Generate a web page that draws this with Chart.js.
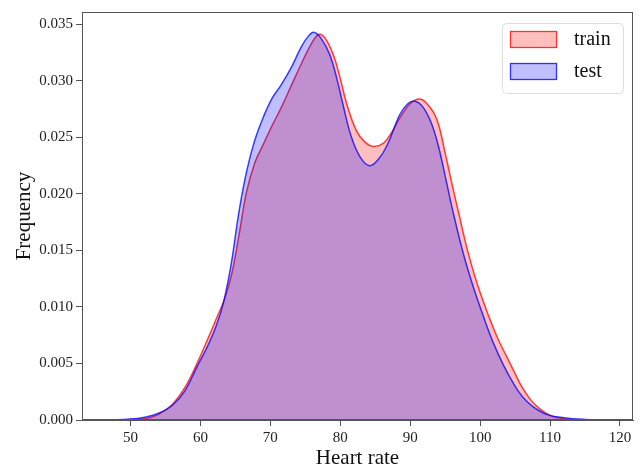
<!DOCTYPE html>
<html>
<head>
<meta charset="utf-8">
<script src="https://cdn.jsdelivr.net/npm/chart.js@4.4.1/dist/chart.umd.min.js"></script>
<style>
  html, body { margin: 0; padding: 0; background: #ffffff; }
  #c { display: block; }
</style>
</head>
<body>
<canvas id="c" width="643" height="469"></canvas>
<script>
// ---- data (KDE curves) ----
const seriesNames = ["train", "test"];

const trainX = [48, 50, 52, 54, 56, 57.8, 59.5, 61, 62.3, 63.5, 64.5, 65.5, 66.6, 67.8, 69.0, 70.3, 71.6, 73, 74.5, 75.7, 76.9, 77.8, 79.0, 80.0, 80.9, 82.3, 83.5, 84.7, 86.2, 87.5, 88.5, 90.0, 91.4, 92.5, 93.8, 95.0, 96.0, 96.9, 98.2, 99.6, 101.4, 102.6, 103.8, 105, 106, 107.2, 108.5, 110, 112, 115];
const trainY = [0, 0.00004, 0.00012, 0.0005, 0.0014, 0.0029, 0.0050, 0.0071, 0.0090, 0.0108, 0.0130, 0.0163, 0.0202, 0.0228, 0.0244, 0.0261, 0.0277, 0.0296, 0.0316, 0.0331, 0.0341, 0.0338, 0.0323, 0.0302, 0.0280, 0.0256, 0.0246, 0.0242, 0.0245, 0.0256, 0.0267, 0.0280, 0.0284, 0.0279, 0.0266, 0.0236, 0.0208, 0.0184, 0.0150, 0.0120, 0.0089, 0.0071, 0.0056, 0.0041, 0.0029, 0.0018, 0.0010, 0.0004, 0.0001, 0];

const testX = [46.6, 50, 52, 54, 56, 57.8, 59.5, 61, 62.3, 63.3, 64.4, 65.4, 66.4, 67.6, 68.8, 70.2, 71.5, 73, 74.5, 75.5, 76.2, 77.2, 78.5, 79.5, 80.5, 81.5, 82.8, 84.2, 85.5, 86.7, 88.5, 89.7, 90.7, 91.8, 93.0, 94.0, 95.2, 96.2, 97.6, 99.0, 100.5, 101.9, 103.3, 104.7, 106, 107.5, 109.5, 112, 115, 118.3];
const testY = [0, 0.00008, 0.00025, 0.0006, 0.0013, 0.0026, 0.0047, 0.0065, 0.0084, 0.0104, 0.0138, 0.0180, 0.0214, 0.0244, 0.0265, 0.0284, 0.0296, 0.0312, 0.0331, 0.0340, 0.0343, 0.0338, 0.0323, 0.0302, 0.0276, 0.0252, 0.0233, 0.0225, 0.0231, 0.0243, 0.0270, 0.0280, 0.0282, 0.0277, 0.0263, 0.0243, 0.0210, 0.0182, 0.0147, 0.0118, 0.0091, 0.0068, 0.0049, 0.0033, 0.0021, 0.0012, 0.0005, 0.0002, 0.00005, 0];

const xTicks = [50, 60, 70, 80, 90, 100, 110, 120];
const yTicks = [0.000, 0.005, 0.010, 0.015, 0.020, 0.025, 0.030, 0.035];
const xTitle = "Heart rate";
const yTitle = "Frequency";

const toPoints = (xs, ys) => xs.map((x, i) => ({ x: x, y: ys[i] }));

const SERIF = "'Liberation Serif', 'Times New Roman', 'DejaVu Serif', serif";

// frame (all four spines) + legend inside the plot area
const framePlugin = {
  id: 'frame',
  afterDraw(chart) {
    const { ctx, chartArea: a } = chart;
    ctx.save();
    ctx.strokeStyle = '#555555';
    ctx.lineWidth = 1;
    ctx.strokeRect(Math.round(a.left) + 0.5, Math.round(a.top) + 0.5,
                   Math.round(a.right - a.left) - 1, Math.round(a.bottom - a.top) - 1);

    // legend
    const bx = a.right - 131, by = a.top + 11, bw = 121, bh = 70;
    ctx.beginPath();
    if (ctx.roundRect) ctx.roundRect(bx + 0.5, by + 0.5, bw, bh, 4); else ctx.rect(bx + 0.5, by + 0.5, bw, bh);
    ctx.fillStyle = 'rgba(255,255,255,0.8)';
    ctx.fill();
    ctx.strokeStyle = '#dddddd';
    ctx.stroke();
    ctx.font = "20px " + SERIF;
    ctx.textBaseline = 'middle';
    ctx.textAlign = 'left';
    chart.data.datasets.forEach((ds, i) => {
      const sy = by + 8 + i * 32;
      ctx.fillStyle = ds.backgroundColor;
      ctx.fillRect(bx + 8, sy, 47, 17);
      ctx.strokeStyle = ds.borderColor;
      ctx.lineWidth = 1.3;
      ctx.strokeRect(bx + 8.5, sy + 0.5, 46, 16);
      ctx.fillStyle = '#111111';
      ctx.fillText(ds.label, bx + 72, sy + 9);
    });
    ctx.restore();
  }
};

new Chart(document.getElementById('c'), {
  type: 'line',
  data: {
    datasets: [
      {
        label: seriesNames[0],
        data: toPoints(trainX, trainY),
        borderColor: 'rgba(255,0,0,0.75)',
        backgroundColor: 'rgba(255,0,0,0.25)',
        borderWidth: 1.5,
        fill: 'origin',
        pointRadius: 0,
        tension: 0.4,
        order: 1
      },
      {
        label: seriesNames[1],
        data: toPoints(testX, testY),
        borderColor: 'rgba(0,0,255,0.75)',
        backgroundColor: 'rgba(0,0,255,0.25)',
        borderWidth: 1.5,
        fill: 'origin',
        pointRadius: 0,
        tension: 0.4,
        order: 0
      }
    ]
  },
  options: {
    responsive: false,
    animation: false,
    events: [],
    layout: { padding: { left: 0, top: 11, right: 10, bottom: 0 } },
    plugins: {
      legend: { display: false },
      tooltip: { enabled: false },
      title: { display: false }
    },
    scales: {
      x: {
        type: 'linear',
        min: 43.06,
        max: 121.86,
        afterBuildTicks: (s) => { s.ticks = xTicks.map(v => ({ value: v })); },
        afterFit: (s) => { s.height = 49; },
        ticks: {
          autoSkip: false, maxRotation: 0, padding: 3,
          color: '#222222',
          font: { family: SERIF, size: 15 },
          callback: (v) => String(v)
        },
        grid: { display: true, drawOnChartArea: false, drawTicks: true, tickLength: 6, color: '#555555' },
        border: { display: true, color: '#555555', width: 1 },
        title: {
          display: true, text: xTitle, color: '#111111',
          font: { family: SERIF, size: 21, lineHeight: 1.0 },
          padding: { top: 0, bottom: 0 }
        }
      },
      y: {
        type: 'linear',
        min: 0,
        max: 0.03609,
        afterBuildTicks: (s) => { s.ticks = yTicks.map(v => ({ value: v })); },
        afterFit: (s) => { s.width = 82; },
        ticks: {
          padding: 3,
          color: '#222222',
          font: { family: SERIF, size: 15 },
          callback: (v) => Number(v).toFixed(3)
        },
        grid: { display: true, drawOnChartArea: false, drawTicks: true, tickLength: 6, color: '#555555' },
        border: { display: true, color: '#555555', width: 1 },
        title: {
          display: true, text: yTitle, color: '#111111',
          font: { family: SERIF, size: 21, lineHeight: 1.2 },
          padding: { top: 12, bottom: 0 }
        }
      }
    }
  },
  plugins: [framePlugin]
});
</script>
</body>
</html>
